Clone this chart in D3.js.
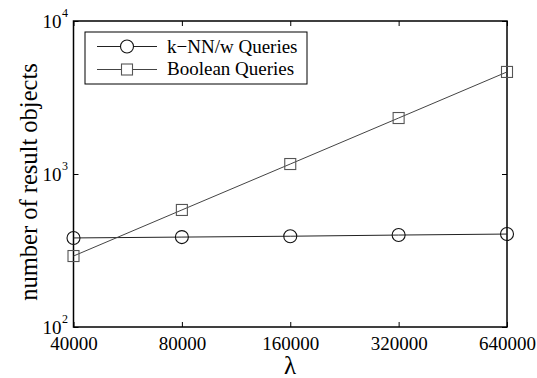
<!DOCTYPE html>
<html><head><meta charset="utf-8">
<script src="https://cdn.jsdelivr.net/npm/d3@7"></script>
<style>body{margin:0;background:#fff;}svg{display:block;}</style>
</head><body>
<svg id="c" width="537" height="378"></svg>
<script>
const lambdas = [40000, 80000, 160000, 320000, 640000];
const xTickLabels = ["40000", "80000", "160000", "320000", "640000"];
const knnValues = [382, 387, 392, 399, 405];
const boolValues = [291, 582, 1162, 2322, 4645];
const yTicks = [100, 1000, 10000];
const yTickExps = ["2", "3", "4"];
const seriesNames = ["k\u2212NN/w Queries", "Boolean Queries"];

const svg = d3.select("#c");
const L = 73.5, R = 507, T = 21, B = 327;
const x = d3.scaleLog().base(2).domain([40000, 640000]).range([L, R]);
const y = d3.scaleLog().domain([100, 10000]).range([B, T]);
const font = "Liberation Serif, Times New Roman, serif";

// x ticks (inward, top & bottom)
const xAxisB = d3.axisBottom(x).tickValues(lambdas).tickSize(-5).tickFormat((d,i)=>xTickLabels[i]);
const gxb = svg.append("g").attr("transform", `translate(0,${B})`).call(xAxisB);
gxb.select(".domain").remove();
gxb.selectAll("line").attr("stroke", "#000").attr("stroke-width", 1);
gxb.selectAll("text").attr("font-family", font).attr("font-size", 19).attr("fill", "#000").attr("dy", null).attr("y", 23);

const xAxisT = d3.axisTop(x).tickValues(lambdas).tickSize(-5).tickFormat("");
const gxt = svg.append("g").attr("transform", `translate(0,${T})`).call(xAxisT);
gxt.select(".domain").remove();
gxt.selectAll("line").attr("stroke", "#000");

// y ticks (inward, left & right)
const yAxisL = d3.axisLeft(y).tickValues(yTicks).tickSize(-5).tickFormat("");
const gyl = svg.append("g").attr("transform", `translate(${L},0)`).call(yAxisL);
gyl.select(".domain").remove();
gyl.selectAll("line").attr("stroke", "#000");
const yAxisR = d3.axisRight(y).tickValues(yTicks).tickSize(-5).tickFormat("");
const gyr = svg.append("g").attr("transform", `translate(${R},0)`).call(yAxisR);
gyr.select(".domain").remove();
gyr.selectAll("line").attr("stroke", "#000");

// y tick labels with superscript
yTicks.forEach((v, i) => {
  svg.append("text").attr("font-family", font).attr("fill", "#000")
    .attr("x", 61.5).attr("y", y(v) + 7).attr("text-anchor", "end").attr("font-size", 19).text("10");
  svg.append("text").attr("font-family", font).attr("fill", "#000")
    .attr("x", 62).attr("y", y(v) - 4).attr("font-size", 12).text(yTickExps[i]);
});

// frame
svg.append("rect").attr("x", L).attr("y", T).attr("width", R - L).attr("height", B - T)
  .attr("fill", "none").attr("stroke", "#000").attr("stroke-width", 1.5);

// series
const line = d3.line().x((d,i)=>x(lambdas[i])).y(d=>y(d));
svg.append("path").datum(knnValues).attr("d", line).attr("fill", "none").attr("stroke", "#222").attr("stroke-width", 1);
svg.append("path").datum(boolValues).attr("d", line).attr("fill", "none").attr("stroke", "#444").attr("stroke-width", 1);

svg.selectAll("circle.k").data(knnValues).enter().append("circle")
  .attr("cx", (d,i)=>x(lambdas[i])).attr("cy", d=>y(d)).attr("r", 6.5)
  .attr("fill", "none").attr("stroke", "#111").attr("stroke-width", 1.1);
svg.selectAll("rect.b").data(boolValues).enter().append("rect")
  .attr("x", (d,i)=>x(lambdas[i]) - 5.5).attr("y", d=>y(d) - 5.5).attr("width", 11).attr("height", 11)
  .attr("fill", "none").attr("stroke", "#555").attr("stroke-width", 1.1);

// legend
const lg = svg.append("g");
lg.append("rect").attr("x", 85).attr("y", 32).attr("width", 222).attr("height", 52)
  .attr("fill", "#fff").attr("stroke", "#000").attr("stroke-width", 1);
[46.5, 69.5].forEach((ly, i) => {
  lg.append("line").attr("x1", 97).attr("x2", 157).attr("y1", ly).attr("y2", ly)
    .attr("stroke", i === 0 ? "#222" : "#444");
  if (i === 0) lg.append("circle").attr("cx", 127).attr("cy", ly).attr("r", 6.5).attr("fill", "#fff").attr("stroke", "#111").attr("stroke-width", 1.1);
  else lg.append("rect").attr("x", 121.5).attr("y", ly - 5.5).attr("width", 11).attr("height", 11).attr("fill", "#fff").attr("stroke", "#555").attr("stroke-width", 1.1);
  lg.append("text").attr("x", 167).attr("y", ly + (i === 0 ? 6.5 : 5.5)).attr("font-family", font).attr("font-size", 19)
    .attr("fill", "#000").text(seriesNames[i]);
});

// axis labels
svg.append("text").attr("x", 290).attr("y", 374).attr("text-anchor", "middle")
  .attr("font-family", font).attr("font-size", 25).attr("fill", "#000").text("\u03bb");
svg.append("text").attr("transform", "translate(37,182) rotate(-90)").attr("text-anchor", "middle")
  .attr("font-family", font).attr("font-size", 24.5).attr("fill", "#000").text("number of result objects");
</script>
</body></html>
